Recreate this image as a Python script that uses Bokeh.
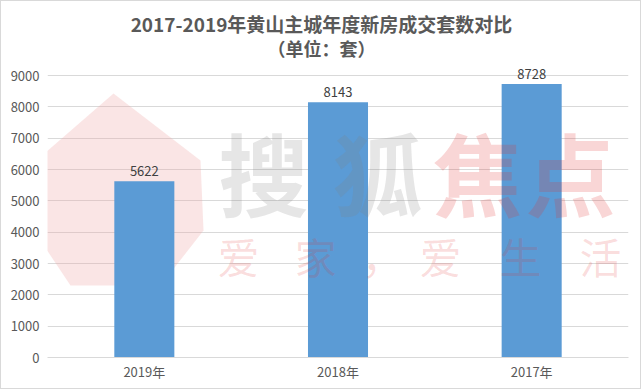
from bokeh.plotting import figure
from bokeh.models import ColumnDataSource, Label, PolyAnnotation, Range1d, FixedTicker
from bokeh.embed import file_html
from bokeh.resources import INLINE
from bokeh.core.properties import value

years = ["2019年", "2018年", "2017年"]
sales = [5622, 8143, 8728]
y_ticks = [0, 1000, 2000, 3000, 4000, 5000, 6000, 7000, 8000, 9000]
title_text = "2017-2019年黄山主城年度新房成交套数对比"
subtitle_text = "（单位：套）"

FONT = "Noto Sans CJK SC"
TXT = "#595959"
GRID = "#d9d9d9"

src = ColumnDataSource(dict(x=years, y=sales, lab=[str(v) for v in sales]))

# frame spans the full height so that titles/labels above the 9000 line are not clipped
p = figure(x_range=years, y_range=Range1d(0, 11362), width=641, height=389,
           output_backend="svg", toolbar_location=None,
           min_border_left=46, min_border_right=14, min_border_top=0, min_border_bottom=33)
p.styles = {"border": "1px solid #d9d9d9"}
p.outline_line_color = None
p.background_fill_color = "white"
p.border_fill_color = "white"

# titles (screen units relative to plot frame, y upwards)
p.add_layout(Label(x=274, y=334, x_units="screen", y_units="screen", text=title_text,
                   text_align="center", text_baseline="middle", text_font=FONT,
                   text_font_size="19px", text_font_style="bold", text_color=TXT))
p.add_layout(Label(x=274, y=310, x_units="screen", y_units="screen", text=subtitle_text,
                   text_align="center", text_baseline="middle", text_font=FONT,
                   text_font_size="18px", text_font_style="bold", text_color=TXT))

# watermark
logo = PolyAnnotation(xs=[66, 153, 156, 113, 23, -17, -17],
                      ys=[264, 197, 127, 72, 72, 132, 192],
                      xs_units="screen", ys_units="screen",
                      fill_color="#f0a8a8", fill_alpha=0.3, line_color=None, level="underlay")
p.add_layout(logo)
for t, xs, col in [("搜", 216, "#808080"), ("狐", 330, "#808080"),
                   ("焦", 430, "#e03030"), ("点", 523, "#e03030")]:
    p.add_layout(Label(x=xs, y=187, x_units="screen", y_units="screen", text=t,
                       text_align="center", text_baseline="middle",
                       text_font=FONT, text_font_size="90px", text_color=col,
                       text_alpha=0.2, text_font_style="bold", level="overlay"))
for t, xs in [("爱", 191), ("家", 268), ("，", 335), ("爱", 393), ("生", 473), ("活", 553)]:
    p.add_layout(Label(x=xs, y=102, x_units="screen", y_units="screen", text=t,
                       text_align="center", text_baseline="middle",
                       text_font=FONT, text_font_size="42px", text_color="#e03030",
                       text_alpha=0.16, level="overlay"))

p.vbar(x="x", top="y", width=0.31, source=src, fill_color="#5b9bd5", line_color=None)
p.text(x="x", y="y", text="lab", source=src, text_align="center", text_baseline="bottom",
       y_offset=-5, text_font=value(FONT), text_font_size="13px", text_color="#404040")

p.xgrid.grid_line_color = None
p.ygrid.grid_line_color = GRID
p.yaxis.ticker = FixedTicker(ticks=y_ticks)
p.yaxis.axis_line_color = None
p.yaxis.major_tick_line_color = None
p.yaxis.major_tick_out = 0
p.yaxis.minor_tick_line_color = None
p.yaxis.major_label_text_font = FONT
p.yaxis.major_label_text_font_size = "13px"
p.yaxis.major_label_text_color = TXT
p.yaxis.major_label_standoff = 8
p.xaxis.axis_line_color = GRID
p.xaxis.major_tick_line_color = None
p.xaxis.major_tick_out = 0
p.xaxis.minor_tick_line_color = None
p.xaxis.major_label_text_font = FONT
p.xaxis.major_label_text_font_size = "13px"
p.xaxis.major_label_text_color = TXT
p.xaxis.major_label_standoff = 4

open("out.html", "w").write(file_html(p, INLINE))
